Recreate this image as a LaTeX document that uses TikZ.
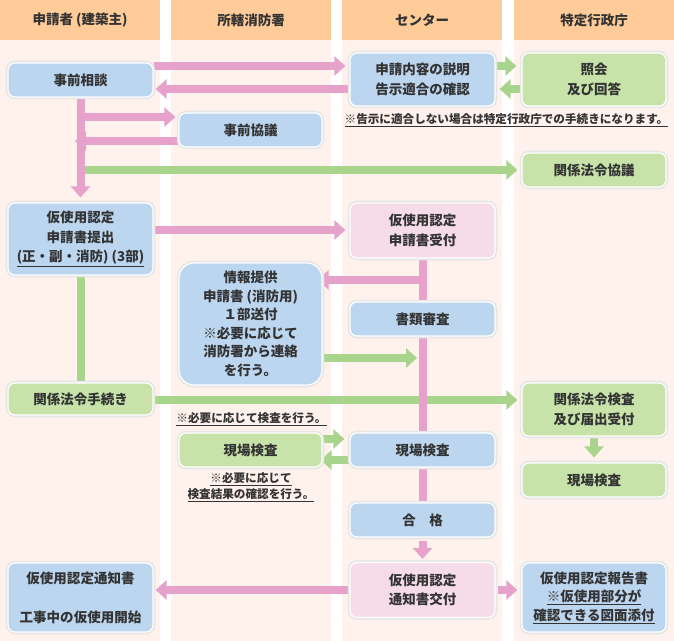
\documentclass[tikz,border=0pt]{standalone}
\usepackage{fontspec}
\setmainfont{Noto Sans CJK JP}
\usetikzlibrary{arrows.meta}
\definecolor{headc}{HTML}{FFCC99}
\definecolor{bodyc}{HTML}{FFF1EC}
\definecolor{bluec}{HTML}{BCD6F0}
\definecolor{greenc}{HTML}{C7E3A9}
\definecolor{pinkc}{HTML}{F6DCE9}
\definecolor{parr}{HTML}{E6A2CA}
\definecolor{garr}{HTML}{A9D48C}
\definecolor{edgec}{HTML}{E6E6E6}
\definecolor{txt}{HTML}{333333}
\newcommand\bxfont{\fontsize{13.5bp}{19.5bp}\selectfont\bfseries}
\newcommand\ntfont{\fontsize{11.6bp}{15.5bp}\selectfont\bfseries}
\pgfdeclarelayer{back}\pgfdeclarelayer{mid}\pgfsetlayers{back,mid,main}
\tikzset{
 box/.style={rounded corners=7bp, draw=white, line width=1.2bp,
   preaction={draw=edgec, line width=4.5bp},
   align=center, inner sep=2bp, font=\bxfont, text=txt},
 bluebox/.style={box, fill=bluec},
 greenbox/.style={box, fill=greenc},
 pinkbox/.style={box, fill=pinkc},
 w145/.style={minimum width=145bp},
 note/.style={font=\ntfont, text=txt, align=center, inner sep=0pt},
 head/.style={font=\bxfont, text=txt, inner sep=0pt},
 pline/.style={draw=parr, line width=8bp},
 gline/.style={draw=garr, line width=8bp},
 parrow/.style={pline, -{Triangle[width=19bp,length=11bp]}},
 garrow/.style={gline, -{Triangle[width=19bp,length=11bp]}},
}
\begin{document}
\begin{tikzpicture}[x=1bp,y=-1bp]
\useasboundingbox (0,0) rectangle (674,641);
\begin{pgfonlayer}{back}
 \fill[white] (0,0) rectangle (674,641);
 \foreach \a/\b in {0/160,171/331,342/502,514/674}{
   \fill[headc] (\a,0) rectangle (\b,40);
   \fill[bodyc] (\a,40) rectangle (\b,641);
 }
\end{pgfonlayer}
% headers
\node[head] (h1) at (80,20) {申請者 (建築主)};
\node[head] (h2) at (251,20) {所轄消防署};
\node[head] (h3) at (422,20) {センター};
\node[head] (h4) at (594,20) {特定行政庁};
% boxes
\node[bluebox, w145, minimum height=34bp] (soudan) at (80.5,80) {事前相談};
\node[bluebox, w145, minimum height=53bp] (setsumei) at (422.5,79.5) {申請内容の説明\\告示適合の確認};
\node[greenbox, minimum width=144bp, minimum height=53bp] (shoukai) at (594,79.5) {照会\\及び回答};
\node[note] (note1) at (506.5,120) {\underline{※告示に適合しない場合は特定行政庁での手続きになります。}};
\node[bluebox, minimum width=143bp, minimum height=34bp] (kyougi) at (250.5,130) {事前協議};
\node[greenbox, minimum width=144bp, minimum height=34bp] (houkyougi) at (594,170) {関係法令協議};
\node[bluebox, w145, minimum height=72bp] (teishutsu) at (80.5,239) {仮使用認定\\申請書提出\\\underline{(正・副・消防) (3部)}};
\node[pinkbox, w145, minimum height=55bp] (uketsuke) at (422.5,230.5) {仮使用認定\\申請書受付};
\node[bluebox, minimum width=143bp, minimum height=122bp, rounded corners=15bp,
  font=\fontsize{13.5bp}{18.5bp}\selectfont\bfseries] (jouhou) at (250.5,324)
  {情報提供\\申請書 (消防用)\\１部送付\\※必要に応じて\\消防署から連絡\\を行う。};
\node[bluebox, w145, minimum height=34bp] (shorui) at (422.5,319) {書類審査};
\node[greenbox, w145, minimum height=32bp] (tetsuzuki) at (80.5,399) {関係法令手続き};
\node[greenbox, minimum width=144bp, minimum height=53bp] (kensa4) at (594,409.5) {関係法令検査\\及び届出受付};
\node[note] (note2) at (251.5,419) {\underline{※必要に応じて検査を行う。}};
\node[greenbox, minimum width=143bp, minimum height=34bp] (genba2) at (250.5,450) {現場検査};
\node[bluebox, w145, minimum height=34bp] (genba3) at (422.5,450) {現場検査};
\node[note] (note3) at (251,487) {\underline{※必要に応じて}\\\underline{検査結果の確認を行う。}};
\node[greenbox, minimum width=144bp, minimum height=34bp] (genba4) at (594,480) {現場検査};
\node[bluebox, w145, minimum height=34bp] (goukaku) at (422.5,520) {合　格};
\node[pinkbox, w145, minimum height=55bp] (kofu) at (422.5,590) {仮使用認定\\通知書交付};
\node[bluebox, w145, minimum height=69bp] (tsuchisho) at (80.5,597.5) {仮使用認定通知書\\[19.5bp]工事中の仮使用開始};
\node[bluebox, minimum width=144bp, minimum height=69bp, font=\fontsize{13.5bp}{18.5bp}\selectfont\bfseries] (hokoku) at (594,597.5) {仮使用認定報告書\\\underline{※仮使用部分が}\\\underline{確認できる図面添付}};
% connectors
\begin{pgfonlayer}{mid}
 \draw[parrow, shorten >=4bp] (soudan.east |- 0,66) -- (setsumei.west |- 0,66);
 \draw[parrow, shorten >=2bp] (setsumei.west |- 0,89) -- (soudan.east |- 0,89);
 \draw[garrow, shorten >=5bp] (setsumei.east |- 0,66) -- (shoukai.west |- 0,66);
 \draw[garrow, shorten >=4bp] (shoukai.west |- 0,89) -- (setsumei.east |- 0,89);
 \draw[garrow, shorten >=4bp] (soudan.south |- 0,170) -- (houkyougi.west |- 0,170);
 \draw[parrow, shorten >=5bp] (soudan.south) -- (teishutsu.north);
 \draw[parrow, shorten >=3bp] (soudan.south |- 0,117) -- (kyougi.west |- 0,117);
 \draw[parrow, shorten >=-5.5bp] (kyougi.west |- 0,141) -- (soudan.south |- 0,141);
 \draw[parrow, shorten >=4bp] (teishutsu.east |- 0,230) -- (uketsuke.west |- 0,230);
 \draw[gline] (teishutsu.south) -- (tetsuzuki.north);
 \draw[garrow, shorten >=4bp] (tetsuzuki.east |- 0,400) -- (kensa4.west |- 0,400);
 \draw[pline] (uketsuke.south) -- (shorui.north);
 \draw[parrow, shorten >=-5bp] (uketsuke.south |- 0,280) -- (jouhou.east |- 0,280);
 \draw[garrow, shorten >=5.5bp] (jouhou.east |- 0,358) -- (shorui.south |- 0,358);
 \draw[pline] (shorui.south) -- (genba3.north);
 \draw[garrow, shorten >=5bp] (genba2.east |- 0,439) -- (genba3.west |- 0,439);
 \draw[garrow, shorten >=-2bp] (genba3.west |- 0,460) -- (genba2.east |- 0,460);
 \draw[garrow, shorten >=5bp] (kensa4.south) -- (genba4.north);
 \draw[pline] (genba3.south) -- (goukaku.north);
 \draw[parrow, shorten >=3bp, shorten <=3bp] (goukaku.south) -- (kofu.north);
 \draw[parrow, shorten >=2bp] (kofu.west |- 0,590) -- (tsuchisho.east |- 0,590);
 \draw[parrow, shorten >=4bp, shorten <=2bp] (kofu.east |- 0,590) -- (hokoku.west |- 0,590);
\end{pgfonlayer}
\end{tikzpicture}
\end{document}
